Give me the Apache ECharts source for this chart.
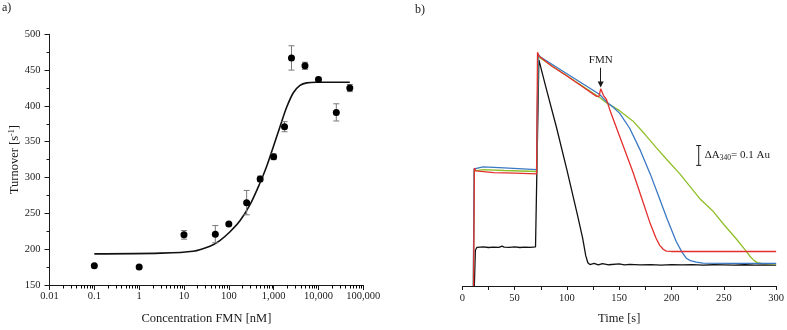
<!DOCTYPE html>
<html>
<head>
<meta charset="utf-8">
<script src="https://cdn.jsdelivr.net/npm/echarts@6/dist/echarts.min.js"></script>
<style>
  html, body { margin: 0; padding: 0; background: #fff; }
  #chart { width: 787px; height: 330px; }
</style>
</head>
<body>
<div id="chart"></div>
<script>
// a) turnover vs FMN concentration
const concNM = [0.1, 1, 10, 50, 100, 250, 500, 1000, 1750, 2500, 5000, 10000, 25000, 50000];
const turnover = [177, 175, 220, 221, 235, 265, 298, 329, 371, 467, 456, 437, 391, 425];
const turnoverErr = [0, 0, 6, 12, 0, 17, 4, 4, 7, 17, 5, 3, 12, 5];

// fitted curve
const fitConc = [0.1, 3, 16, 38, 63, 105, 177, 295, 490, 690, 976, 1370, 1940, 2750, 3870, 5470, 9170, 50000];
const fitTurnover = [193.5, 194.5, 197.2, 204.2, 212, 224, 239.6, 261.7, 291.7, 314.8, 342.4, 370, 397.7, 418.4, 428.6, 432.2, 433, 433];

// b) A340 traces (Au, arbitrary offset) vs time [s]
const tBlack = [11.5, 12.5, 14, 20, 25, 30, 35, 38, 40, 45, 50, 55, 60, 65, 70, 71, 73.2, 74, 80, 90, 100, 110, 115, 118, 120, 122, 126, 130, 134, 140, 150, 155, 160, 170, 180, 190, 200, 210, 220, 230, 240, 250, 260, 270, 280, 290, 300];
const aBlack = [0, 0.18, 0.195, 0.197, 0.194, 0.196, 0.195, 0.201, 0.196, 0.195, 0.197, 0.194, 0.196, 0.195, 0.197, 0.2, 1.14, 1.13, 1.0, 0.8, 0.585, 0.36, 0.243, 0.153, 0.117, 0.108, 0.114, 0.106, 0.113, 0.107, 0.111, 0.106, 0.109, 0.106, 0.108, 0.105, 0.108, 0.106, 0.108, 0.105, 0.107, 0.106, 0.105, 0.107, 0.105, 0.106, 0.105];

const tGreen = [10.5, 11.5, 13, 20, 40, 71, 72.5, 74, 100, 131, 138, 150, 163, 175, 185, 195, 208, 227, 240, 250, 262, 270, 275, 279, 282, 286, 290, 300];
const aGreen = [0, 0.58, 0.59, 0.587, 0.582, 0.577, 1.165, 1.15, 1.06, 0.951, 0.923, 0.885, 0.832, 0.762, 0.7, 0.64, 0.565, 0.44, 0.375, 0.31, 0.237, 0.185, 0.15, 0.128, 0.118, 0.114, 0.113, 0.112];

const tBlue = [10.5, 11.3, 13, 20, 40, 71, 72.5, 74, 100, 131.4, 138, 144, 150.5, 160, 169.6, 180, 188.6, 196, 204.6, 210, 214.1, 218, 223.7, 230, 260, 300];
const aBlue = [0, 0.59, 0.6, 0.6, 0.595, 0.587, 1.17, 1.157, 1.07, 0.965, 0.927, 0.902, 0.87, 0.795, 0.69, 0.56, 0.44, 0.335, 0.223, 0.171, 0.14, 0.128, 0.12, 0.115, 0.114, 0.114];

const tRed = [10.8, 11.5, 13, 14, 30, 50, 71, 71.9, 73, 74, 85, 100, 115, 128, 130.5, 131.5, 132.3, 133.5, 135, 137.8, 140.9, 150, 163.2, 170, 179.1, 185, 188.6, 192, 195, 200, 250, 300];
const aRed = [0, 0.594, 0.58, 0.573, 0.571, 0.569, 0.565, 1.178, 1.16, 1.152, 1.11, 1.058, 1.004, 0.957, 0.954, 0.975, 0.994, 0.985, 0.96, 0.94, 0.89, 0.76, 0.573, 0.466, 0.323, 0.243, 0.206, 0.185, 0.176, 0.174, 0.174, 0.174];

// annotations
const fmnTime = 132.3, fmnArrow = [1.1, 1.015];
const scaleBarTime = 226, scaleBar = [0.608, 0.708];

const font = 'Liberation Serif';
const ink = '#1a1a1a';

// log minor tick positions (2..9 per decade)
const logMinor = [];
for (let d = -2; d < 5; d++) for (let k = 2; k <= 9; k++) logMinor.push(k * Math.pow(10, d));

function fmtConc(v) {
  if (v < 1) return String(+v.toPrecision(2));
  return Math.round(v).toLocaleString('en-US');
}

const pair = (xs, ys) => xs.map((x, i) => [x, ys[i]]);

const chart = echarts.init(document.getElementById('chart'));
chart.setOption({
  animation: false,
  textStyle: { fontFamily: font, color: ink },
  grid: [
    { left: 49.5, top: 34.3, width: 313.8, height: 253.7 },
    { left: 462.3, top: 36, width: 314.4, height: 252 }
  ],
  graphic: [
    { type: 'text', left: 2, top: 2, style: { text: 'a)', font: '12px ' + font, fill: ink } },
    { type: 'text', left: 415, top: 4, style: { text: 'b)', font: '12px ' + font, fill: ink } }
  ],
  xAxis: [
    {
      gridIndex: 0, type: 'log', logBase: 10, min: 0.01, max: 100000, splitNumber: 7,
      name: 'Concentration FMN [nM]', nameLocation: 'middle', nameGap: 27,
      nameTextStyle: { fontSize: 12.5, color: ink, fontFamily: font },
      axisLine: { show: true, lineStyle: { color: ink, width: 1 } },
      axisTick: { show: true, length: 5, lineStyle: { color: ink, width: 1 } },
      axisLabel: { fontSize: 10.5, margin: 6, color: ink, fontFamily: font, formatter: fmtConc },
      splitLine: { show: false }
    },
    {
      gridIndex: 1, type: 'value', min: 0, max: 300, interval: 50,
      name: 'Time [s]', nameLocation: 'middle', nameGap: 26,
      nameTextStyle: { fontSize: 12.5, color: ink, fontFamily: font },
      axisLine: { show: true, lineStyle: { color: ink, width: 1 } },
      axisTick: { show: true, length: 4, lineStyle: { color: ink, width: 1 } },
      minorTick: { show: true, splitNumber: 2, length: 4, lineStyle: { color: ink, width: 1 } },
      axisLabel: { fontSize: 10.5, margin: 7, color: ink, fontFamily: font },
      splitLine: { show: false }
    }
  ],
  yAxis: [
    {
      gridIndex: 0, type: 'value', min: 150, max: 500, interval: 50,
      name: 'Turnover [s{sup|-1}]', nameLocation: 'middle', nameGap: 27,
      nameTextStyle: {
        fontSize: 12.5, color: ink, fontFamily: font,
        rich: { sup: { fontSize: 8, verticalAlign: 'top', color: ink, fontFamily: font, lineHeight: 8 } }
      },
      axisLine: { show: true, lineStyle: { color: ink, width: 1 } },
      axisTick: { show: true, length: 5, lineStyle: { color: ink, width: 1 } },
      minorTick: { show: true, splitNumber: 2, length: 3, lineStyle: { color: ink, width: 1 } },
      axisLabel: { fontSize: 10.5, margin: 9, color: ink, fontFamily: font },
      splitLine: { show: false }
    },
    { gridIndex: 1, type: 'value', min: 0, max: 1.26, show: false }
  ],
  series: [
    {
      // 2..9 minor ticks under the log axis, placed through the axis scale
      name: 'logMinor', type: 'custom', xAxisIndex: 0, yAxisIndex: 0, z: 10, clip: false, silent: true,
      data: logMinor.map(v => [v, 150]),
      renderItem(params, api) {
        const p = api.coord([api.value(0), api.value(1)]);
        const x = Math.round(p[0]) + 0.5;
        return { type: 'line', shape: { x1: x, y1: p[1], x2: x, y2: p[1] + 3.5 }, style: { stroke: '#000', lineWidth: 1 } };
      }
    },
    {
      name: 'fit', type: 'line', xAxisIndex: 0, yAxisIndex: 0,
      data: pair(fitConc, fitTurnover), smooth: 0.3, showSymbol: false,
      lineStyle: { color: '#111', width: 1.6 }, z: 2
    },
    {
      name: 'err', type: 'custom', xAxisIndex: 0, yAxisIndex: 0,
      data: concNM.map((c, i) => [c, turnover[i], turnoverErr[i]]),
      renderItem(params, api) {
        const x = api.value(0), y = api.value(1), e = api.value(2);
        if (!e) return;
        const top = api.coord([x, y + e]), bot = api.coord([x, y - e]);
        const st = { stroke: '#7a7a7a', lineWidth: 1 };
        return {
          type: 'group', children: [
            { type: 'line', shape: { x1: top[0], y1: top[1], x2: bot[0], y2: bot[1] }, style: st },
            { type: 'line', shape: { x1: top[0] - 3, y1: top[1], x2: top[0] + 3, y2: top[1] }, style: st },
            { type: 'line', shape: { x1: bot[0] - 3, y1: bot[1], x2: bot[0] + 3, y2: bot[1] }, style: st }
          ]
        };
      },
      z: 3
    },
    {
      name: 'data', type: 'scatter', xAxisIndex: 0, yAxisIndex: 0,
      data: pair(concNM, turnover), symbolSize: 7,
      itemStyle: { color: '#000', opacity: 1, borderWidth: 0 }, z: 4
    },
    {
      name: 'black', type: 'line', xAxisIndex: 1, yAxisIndex: 1,
      data: pair(tBlack, aBlack), showSymbol: false,
      lineStyle: { color: '#111', width: 1.3 }
    },
    {
      name: 'green', type: 'line', xAxisIndex: 1, yAxisIndex: 1,
      data: pair(tGreen, aGreen), showSymbol: false,
      lineStyle: { color: '#8fbf2a', width: 1.3 }
    },
    {
      name: 'blue', type: 'line', xAxisIndex: 1, yAxisIndex: 1,
      data: pair(tBlue, aBlue), showSymbol: false,
      lineStyle: { color: '#3b78c3', width: 1.3 }
    },
    {
      name: 'red', type: 'line', xAxisIndex: 1, yAxisIndex: 1,
      data: pair(tRed, aRed), showSymbol: false,
      lineStyle: { color: '#e3302d', width: 1.3 },
      markLine: {
        silent: true, symbol: ['none', 'triangle'], symbolSize: 6,
        lineStyle: { color: ink, width: 1, type: 'solid' },
        label: { show: true, position: 'start', formatter: 'FMN', fontSize: 11, fontFamily: font, color: ink, distance: 2 },
        data: [[{ coord: [fmnTime, fmnArrow[0]] }, { coord: [fmnTime, fmnArrow[1]] }]]
      }
    },
    {
      name: 'scalebar', type: 'custom', xAxisIndex: 1, yAxisIndex: 1, silent: true,
      data: [[scaleBarTime, scaleBar[0], scaleBar[1]]],
      renderItem(params, api) {
        const lo = api.coord([api.value(0), api.value(1)]);
        const hi = api.coord([api.value(0), api.value(2)]);
        const st = { stroke: ink, lineWidth: 1 };
        return {
          type: 'group', children: [
            { type: 'line', shape: { x1: lo[0], y1: lo[1], x2: hi[0], y2: hi[1] }, style: st },
            { type: 'line', shape: { x1: lo[0] - 2.5, y1: lo[1], x2: lo[0] + 2.5, y2: lo[1] }, style: st },
            { type: 'line', shape: { x1: hi[0] - 2.5, y1: hi[1], x2: hi[0] + 2.5, y2: hi[1] }, style: st },
            {
              type: 'text',
              style: {
                x: lo[0] + 6, y: (lo[1] + hi[1]) / 2,
                text: 'ΔA{sub|340}= 0.1 Au',
                font: '11px ' + font, fill: ink, verticalAlign: 'middle', align: 'left',
                rich: { sub: { fontSize: 7.5, verticalAlign: 'bottom', fill: ink, fontFamily: font, lineHeight: 14 } }
              }
            }
          ]
        };
      }
    }
  ]
});
</script>
</body>
</html>
